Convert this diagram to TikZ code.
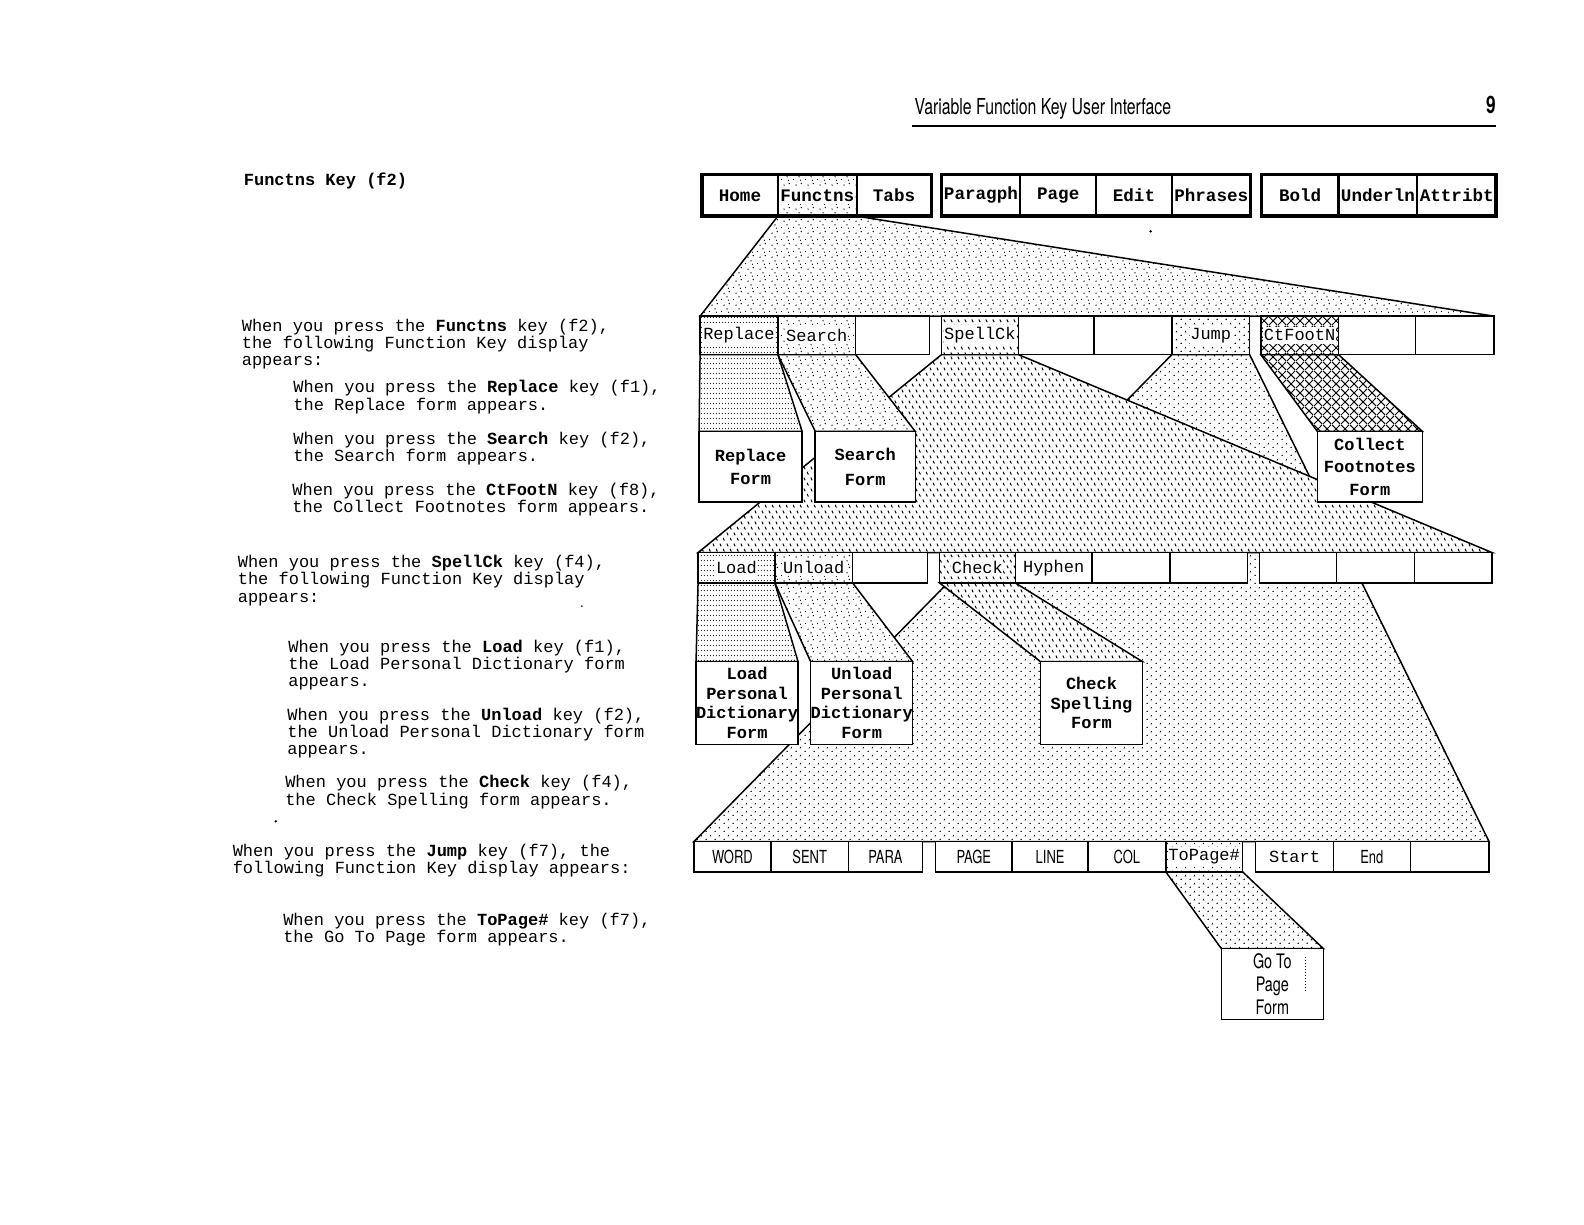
\documentclass[tikz,border=0pt]{standalone}
\usepackage{fontspec}
\setmonofont{Liberation Mono}
\newfontfamily\hdr[FakeStretch=0.72]{TeX Gyre Heros}
\usetikzlibrary{patterns.meta,backgrounds}

\tikzdeclarepattern{name=sparsedots,type=uncolored,
  bounding box={(0pt,0pt) and (6pt,6pt)},tile size={(6pt,6pt)},
  code={\fill (0.8pt,0.8pt) circle (0.38pt); \fill (3.8pt,2.2pt) circle (0.38pt);
        \fill (2.2pt,4.2pt) circle (0.38pt); \fill (5pt,5pt) circle (0.38pt);
        \fill (4.6pt,0.4pt) circle (0.33pt);}}
\tikzdeclarepattern{name=dotrows,type=uncolored,
  bounding box={(0pt,0pt) and (1.6pt,2.7pt)},tile size={(1.6pt,2.7pt)},
  code={\fill (0.8pt,1.35pt) circle (0.33pt);}}
\tikzdeclarepattern{name=slashes,type=uncolored,
  bounding box={(0pt,0pt) and (3.6pt,5.6pt)},tile size={(3.6pt,5.6pt)},
  code={\draw[line width=0.55pt] (0.5pt,5.0pt) -- (1.2pt,3.6pt);
        \draw[line width=0.55pt] (2.3pt,2.2pt) -- (3.0pt,0.8pt);}}
\tikzdeclarepattern{name=tridots,type=uncolored,
  bounding box={(0pt,0pt) and (4.4pt,4pt)},tile size={(4.4pt,4pt)},
  code={\fill (0.7pt,0.6pt) -- (1.5pt,0.6pt) -- (1.1pt,1.5pt) -- cycle;
        \fill (2.9pt,2.6pt) -- (3.7pt,2.6pt) -- (3.3pt,3.5pt) -- cycle;}}
\tikzdeclarepattern{name=xhatch,type=uncolored,
  bounding box={(0pt,0pt) and (4.5pt,4.5pt)},tile size={(4.5pt,4.5pt)},
  code={\draw[line width=0.55pt] (0pt,0pt) -- (4.5pt,4.5pt);
        \draw[line width=0.55pt] (0pt,4.5pt) -- (4.5pt,0pt);}}

\tikzset{
  cellbase/.style={draw, line width=0.75pt, fill=white, inner sep=0pt, outer sep=0pt,
    font=\ttfamily\fontsize{8.5}{10}\selectfont},
  topcell/.style={line width=1.1pt, font=\ttfamily\bfseries\fontsize{8.8}{10}\selectfont},
  sanscell/.style={font=\hdr\fontsize{9}{10}\selectfont},
  formbox/.style={align=center, font=\ttfamily\bfseries\fontsize{8.5}{#1}\selectfont},
  pat/.style={preaction={fill=white}, pattern=#1, pattern color=black},
  fan/.style={draw, line width=0.75pt, preaction={fill=white}, pattern=#1, pattern color=black},
  txt/.style={anchor=base west, inner sep=0pt, font=\ttfamily\fontsize{8.5}{10}\selectfont},
  band/.style={fill=white, inner xsep=0.3pt, inner ysep=1.2pt, font=\ttfamily\fontsize{8.5}{10}\selectfont},
  grp/.style={draw, line width=1.7pt},
}

% #1 extra style, #2 name, #3 x1, #4 x2, #5 y1, #6 y2, #7 text
\newcommand\kc[7][]{\node[cellbase,minimum width={(#4-#3)*0.5051pt},
  minimum height={(#6-#5)*0.5051pt},#1] (#2) at ({(#3+#4)/2},{(#5+#6)/2}) {#7};}
% label of a patterned key, on a white band
\newcommand\kt[3][]{\node[band,#1] (#2-t) at (#2) {#3};}

\begin{document}
\begin{tikzpicture}[x=0.5051pt,y=-0.5051pt]
\useasboundingbox (0,0) rectangle (1568,1212);

% header
\node[anchor=base west, inner sep=0pt, font=\hdr\fontsize{11}{12}\selectfont] (hdr) at (905,113) {Variable Function Key User Interface};
\node[anchor=base east, inner sep=0pt, font=\hdr\bfseries\fontsize{12}{12}\selectfont] (pnum) at (1481,112) {9};
\coordinate (rl) at (903,125);
\coordinate (rr) at (1481,125);
\draw[line width=1pt] (rl) -- (rr);

% left text
\node[txt,font=\ttfamily\bfseries\fontsize{8.5}{10}\selectfont] (title) at (241,184) {Functns Key (f2)};
\node[txt] (p1a) at (239,328) {When you press the \textbf{Functns} key (f2),};
\node[txt] (p1b) at (239,345) {the following Function Key display};
\node[txt] (p1c) at (239,362) {appears:};
\node[txt] (p2a) at (290,389) {When you press the \textbf{Replace} key (f1),};
\node[txt] (p2b) at (290,406) {the Replace form appears.};
\node[txt] (p3a) at (290,440) {When you press the \textbf{Search} key (f2),};
\node[txt] (p3b) at (290,457) {the Search form appears.};
\node[txt] (p4a) at (289,490) {When you press the \textbf{CtFootN} key (f8),};
\node[txt] (p4b) at (289,507) {the Collect Footnotes form appears.};
\node[txt] (p5a) at (235,562) {When you press the \textbf{SpellCk} key (f4),};
\node[txt] (p5b) at (235,579) {the following Function Key display};
\node[txt] (p5c) at (235,596) {appears:};
\node[txt] (p6a) at (285,646) {When you press the \textbf{Load} key (f1),};
\node[txt] (p6b) at (285,663) {the Load Personal Dictionary form};
\node[txt] (p6c) at (285,680) {appears.};
\node[txt] (p7a) at (284,713) {When you press the \textbf{Unload} key (f2),};
\node[txt] (p7b) at (284,730) {the Unload Personal Dictionary form};
\node[txt] (p7c) at (284,747) {appears.};
\node[txt] (p8a) at (282,780) {When you press the \textbf{Check} key (f4),};
\node[txt] (p8b) at (282,797) {the Check Spelling form appears.};
\node[txt] (p9a) at (230,848) {When you press the \textbf{Jump} key (f7), the};
\node[txt] (p9b) at (230,865) {following Function Key display appears:};
\node[txt] (p10a) at (280,916) {When you press the \textbf{ToPage\#} key (f7),};
\node[txt] (p10b) at (280,933) {the Go To Page form appears.};

% stray specks
\fill (273,813) circle (1.3);
\fill (576,600) circle (0.9);
\fill (1139,229) circle (1.3);

% row 1
\kc[topcell]{home}{695}{770}{173}{214}{Home}
\kc[topcell,pat=sparsedots]{functns}{770}{848}{173}{214}{}
\kt[font=\ttfamily\bfseries\fontsize{8.8}{10}\selectfont]{functns}{Functns}
\kc[topcell]{tabs}{848}{922}{173}{214}{Tabs}
\kc[topcell]{paragph}{932}{1010}{173}{214}{Paragph}
\kc[topcell]{page}{1010}{1085}{173}{214}{Page}
\kc[topcell]{edit}{1085}{1160}{173}{214}{Edit}
\kc[topcell]{phrases}{1160}{1238}{173}{214}{Phrases}
\kc[topcell]{bold}{1249}{1325}{173}{214}{Bold}
\kc[topcell]{underln}{1325}{1403}{173}{214}{Underln}
\kc[topcell]{attribt}{1403}{1481}{173}{214}{Attribt}
\draw[grp] (home.north west) rectangle (tabs.south east);
\draw[grp] (paragph.north west) rectangle (phrases.south east);
\draw[grp] (bold.north west) rectangle (attribt.south east);

% row 2
\kc[pat=dotrows]{replace}{693}{770}{313}{351}{}
\kt{replace}{Replace}
\kc[pat=sparsedots]{search}{770}{847}{313}{351}{}
\kt{search}{Search}
\kc{r2c}{847}{920}{313}{351}{}
\kc[pat=slashes]{spellck}{932}{1008}{313}{351}{}
\kt{spellck}{SpellCk}
\kc{r2e}{1008}{1083}{313}{351}{}
\kc{r2f}{1083}{1160}{313}{351}{}
\kc[pat=tridots]{jump}{1160}{1237}{313}{351}{}
\kt{jump}{Jump}
\kc[pat=xhatch]{ctfootn}{1248}{1325}{313}{351}{}
\kt{ctfootn}{CtFootN}
\kc{r2h}{1325}{1401}{313}{351}{}
\kc{r2i}{1401}{1479}{313}{351}{}

% forms of row 2
\kc[formbox=11.6]{replform}{692}{794}{427}{497}{Replace\\Form}
\kc[formbox=12.6]{searchform}{807}{906}{427}{497}{Search\\Form}
\kc[formbox=11.2]{collform}{1304}{1408}{427}{497}{Collect\\Footnotes\\Form}

% row 3
\kc[pat=dotrows]{load}{691}{767}{547}{577}{}
\kt{load}{Load}
\kc[pat=sparsedots]{unload}{767}{844}{547}{577}{}
\kt{unload}{Unload}
\kc{r3c}{844}{918}{547}{577}{}
\kc[pat=slashes]{check}{930}{1005}{547}{577}{}
\kt{check}{Check}
\kc{hyphen}{1005}{1081}{547}{577}{Hyphen}
\kc{r3f}{1081}{1158}{547}{577}{}
\kc{r3g}{1158}{1235}{547}{577}{}
\kc{r3h}{1247}{1323}{547}{577}{}
\kc{r3i}{1323}{1400}{547}{577}{}
\kc{r3j}{1400}{1477}{547}{577}{}

% forms of row 3
\kc[formbox=9.8]{loadform}{689}{790}{655}{737}{Load\\Personal\\Dictionary\\Form}
\kc[formbox=9.8]{unloadform}{803}{903}{655}{737}{Unload\\Personal\\Dictionary\\Form}
\kc[formbox=9.7]{checkform}{1030}{1131}{655}{737}{Check\\Spelling\\Form}

% row 4
\kc[sanscell]{word}{687}{763}{833}{863}{WORD}
\kc[sanscell]{sent}{763}{840}{833}{863}{SENT}
\kc[sanscell]{para}{840}{913}{833}{863}{PARA}
\kc[sanscell]{pg}{926}{1002}{833}{863}{PAGE}
\kc[sanscell]{line}{1002}{1077}{833}{863}{LINE}
\kc[sanscell]{col}{1077}{1154}{833}{863}{COL}
\kc[pat=tridots]{topage}{1154}{1230}{833}{863}{}
\kt{topage}{ToPage\#}
\kc{start}{1243}{1320}{833}{863}{Start}
\kc[sanscell]{end}{1320}{1396}{833}{863}{End}
\kc{r4l}{1396}{1474}{833}{863}{}

% form of row 4
\kc[align=center,font=\hdr\fontsize{10}{11.4}\selectfont]{gotoform}{1209}{1310}{939}{1009}{Go To\\Page\\Form}
\coordinate (sa) at (1292,947);
\coordinate (sb) at (1292,982);
\draw[densely dotted, line width=0.5pt] (sa) -- (sb);

% fans, behind the keys
\begin{pgfonlayer}{background}
\path[fan=sparsedots] (functns.south west) -- (functns.south east) -- (r2i.north east) -- (replace.north west) -- cycle;
\path[fan=tridots] (jump.south west) -- (jump.south east) -- (r4l.north east) -- (word.north west) -- cycle;
\path[fan=slashes] (spellck.south west) -- (spellck.south east) -- (r3j.north east) -- (load.north west) -- cycle;
\path[fan=dotrows] (replace.south west) -- (replace.south east) -- (replform.north east) -- (replform.north west) -- cycle;
\path[fan=sparsedots] (search.south west) -- (search.south east) -- (searchform.north east) -- (searchform.north west) -- cycle;
\path[fan=xhatch] (ctfootn.south west) -- (ctfootn.south east) -- (collform.north east) -- (collform.north west) -- cycle;
\path[fan=dotrows] (load.south west) -- (load.south east) -- (loadform.north east) -- (loadform.north west) -- cycle;
\path[fan=sparsedots] (unload.south west) -- (unload.south east) -- (unloadform.north east) -- (unloadform.north west) -- cycle;
\path[fan=slashes] (check.south west) -- (check.south east) -- (checkform.north east) -- (checkform.north west) -- cycle;
\path[fan=tridots] (topage.south west) -- (topage.south east) -- (gotoform.north east) -- (gotoform.north west) -- cycle;
\end{pgfonlayer}
\end{tikzpicture}
\end{document}
